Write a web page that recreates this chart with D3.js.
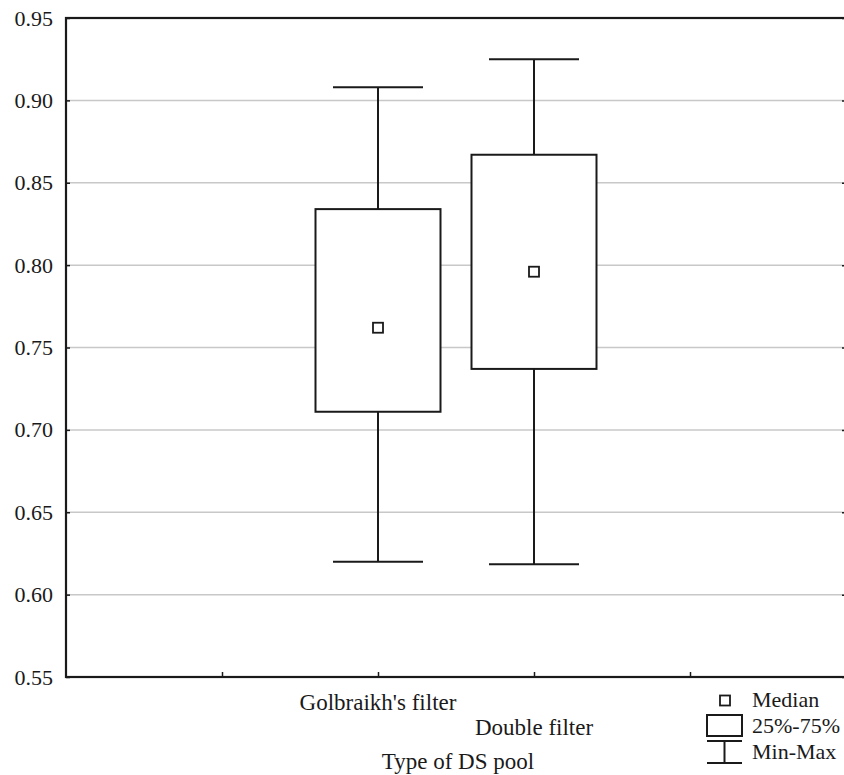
<!DOCTYPE html>
<html><head><meta charset="utf-8">
<script src="https://cdn.jsdelivr.net/npm/d3@7"></script>
<style>body{margin:0;background:#fff;overflow:hidden}svg{display:block}</style>
</head><body>
<script>
const categories = ["Golbraikh's filter", "Double filter"];
const catPos = [2, 3];
const minVals = [0.620, 0.6185];
const q1Vals = [0.711, 0.737];
const medianVals = [0.762, 0.796];
const q3Vals = [0.834, 0.867];
const maxVals = [0.908, 0.925];
const yTicks = [0.55, 0.60, 0.65, 0.70, 0.75, 0.80, 0.85, 0.90, 0.95];
const xTicks = [1, 2, 3, 4];
const xTitle = "Type of DS pool";
const legendLabels = ["Median", "25%-75%", "Min-Max"];

const W = 844, H = 775;
const L = 66, R = 846, T = 18, B = 677;
const font = "'Liberation Serif','Times New Roman',serif";
const ink = "#1a1a1a";

const svg = d3.select("body").append("svg").attr("width", W).attr("height", H);
const x = d3.scaleLinear().domain([0, 5]).range([L, R]);
const y = d3.scaleLinear().domain([0.55, 0.95]).range([B, T]);

// gridlines
svg.append("g").selectAll("line").data(yTicks.filter(d => d > 0.55 && d < 0.95)).join("line")
  .attr("x1", L).attr("x2", R).attr("y1", d => y(d)).attr("y2", d => y(d))
  .attr("stroke", "#c8c8c8").attr("stroke-width", 1.5);

// left axis
const yAxis = svg.append("g").attr("transform", `translate(${L},0)`)
  .call(d3.axisLeft(y).tickValues(yTicks).tickFormat(d3.format(".2f")).tickSize(-4).tickPadding(13));
yAxis.select(".domain").remove();
yAxis.selectAll("line").attr("stroke", ink).attr("stroke-width", 1.5);
yAxis.selectAll("text").attr("font-family", font).attr("font-size", 22).attr("fill", ink);

// right ticks
svg.append("g").attr("transform", `translate(${R},0)`)
  .call(d3.axisRight(y).tickValues(yTicks).tickFormat("").tickSize(-4))
  .call(g => g.select(".domain").remove())
  .selectAll("line").attr("stroke", ink).attr("stroke-width", 1.5);

// bottom ticks
svg.append("g").attr("transform", `translate(0,${B})`)
  .call(d3.axisBottom(x).tickValues(xTicks).tickFormat("").tickSize(-5))
  .call(g => g.select(".domain").remove())
  .selectAll("line").attr("stroke", ink).attr("stroke-width", 1.5);

// frame
svg.append("rect").attr("x", L).attr("y", T).attr("width", R - L).attr("height", B - T)
  .attr("fill", "none").attr("stroke", ink).attr("stroke-width", 2.2);

// boxes
const boxW = 125, capW = 90, medS = 10;
const g = svg.append("g").selectAll("g").data(categories.map((c, i) => i)).join("g");
g.append("line").attr("x1", i => x(catPos[i])).attr("x2", i => x(catPos[i]))
  .attr("y1", i => y(maxVals[i])).attr("y2", i => y(q3Vals[i])).attr("stroke", ink).attr("stroke-width", 2);
g.append("line").attr("x1", i => x(catPos[i])).attr("x2", i => x(catPos[i]))
  .attr("y1", i => y(q1Vals[i])).attr("y2", i => y(minVals[i])).attr("stroke", ink).attr("stroke-width", 2);
g.append("line").attr("x1", i => x(catPos[i]) - capW / 2).attr("x2", i => x(catPos[i]) + capW / 2)
  .attr("y1", i => y(maxVals[i])).attr("y2", i => y(maxVals[i])).attr("stroke", ink).attr("stroke-width", 2);
g.append("line").attr("x1", i => x(catPos[i]) - capW / 2).attr("x2", i => x(catPos[i]) + capW / 2)
  .attr("y1", i => y(minVals[i])).attr("y2", i => y(minVals[i])).attr("stroke", ink).attr("stroke-width", 2);
g.append("rect").attr("x", i => x(catPos[i]) - boxW / 2).attr("width", boxW)
  .attr("y", i => y(q3Vals[i])).attr("height", i => y(q1Vals[i]) - y(q3Vals[i]))
  .attr("fill", "#fff").attr("stroke", ink).attr("stroke-width", 2);
g.append("rect").attr("x", i => x(catPos[i]) - medS / 2).attr("width", medS)
  .attr("y", i => y(medianVals[i]) - medS / 2).attr("height", medS)
  .attr("fill", "#fff").attr("stroke", ink).attr("stroke-width", 1.8);

// category labels (staggered)
svg.append("g").selectAll("text").data(categories).join("text")
  .attr("x", (d, i) => x(catPos[i])).attr("y", (d, i) => 710 + i * 25)
  .attr("text-anchor", "middle").attr("font-family", font).attr("font-size", 23).attr("fill", ink)
  .text(d => d);

svg.append("text").attr("x", 458).attr("y", 769).attr("text-anchor", "middle")
  .attr("font-family", font).attr("font-size", 23).attr("fill", ink).text(xTitle);

// legend
const lg = svg.append("g");
lg.append("rect").attr("x", 720).attr("y", 695.5).attr("width", 10).attr("height", 10)
  .attr("fill", "#fff").attr("stroke", ink).attr("stroke-width", 1.8);
lg.append("rect").attr("x", 707).attr("y", 715).attr("width", 35).attr("height", 21)
  .attr("fill", "#fff").attr("stroke", ink).attr("stroke-width", 2);
lg.append("line").attr("x1", 707).attr("x2", 742).attr("y1", 741).attr("y2", 741).attr("stroke", ink).attr("stroke-width", 2);
lg.append("line").attr("x1", 724.5).attr("x2", 724.5).attr("y1", 741).attr("y2", 763).attr("stroke", ink).attr("stroke-width", 2);
lg.append("line").attr("x1", 707).attr("x2", 742).attr("y1", 763).attr("y2", 763).attr("stroke", ink).attr("stroke-width", 2);
lg.selectAll("text").data(legendLabels).join("text")
  .attr("x", 752).attr("y", (d, i) => 707 + i * 26)
  .attr("font-family", font).attr("font-size", 22).attr("fill", ink).text(d => d);
</script>
</body></html>
